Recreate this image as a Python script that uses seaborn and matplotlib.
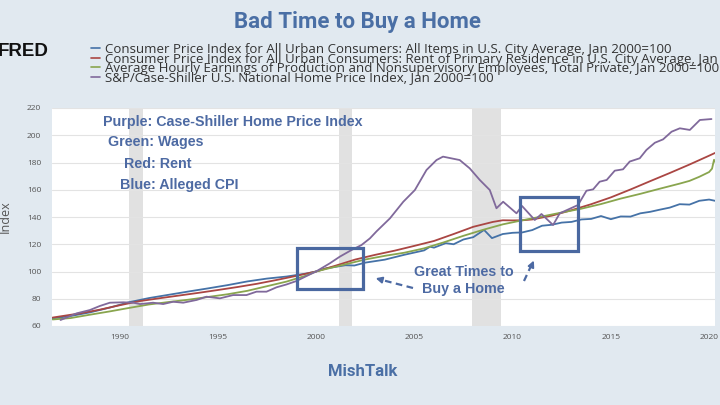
import matplotlib
matplotlib.use("Agg")
import matplotlib.pyplot as plt
import seaborn as sns
import pandas as pd
from matplotlib.patches import Rectangle
from matplotlib.lines import Line2D

# ---------------- data ----------------
cpi_years = [1986.6, 1987.5, 1988.5, 1989.5, 1990.5, 1991.5, 1992.5, 1993.5, 1994.5, 1995.5,
             1996.5, 1997.5, 1998.5, 1999.5, 2000.0, 2000.5, 2001.5, 2001.95, 2002.5, 2003.5,
             2004.5, 2005.5, 2005.8, 2006.0, 2006.6, 2007.0, 2007.5, 2008.0, 2008.55, 2008.95,
             2009.5, 2010.0, 2010.5, 2011.0, 2011.5, 2012.0, 2012.5, 2013.0, 2013.5, 2014.0,
             2014.5, 2015.0, 2015.5, 2016.0, 2016.5, 2017.0, 2017.5, 2018.0, 2018.5, 2019.0,
             2019.5, 2020.0, 2020.3]
cpi_values = [65.6, 67.3, 70.0, 73.5, 77.5, 80.5, 82.9, 85.3, 87.6, 90.0,
              92.7, 94.8, 96.3, 98.5, 100.0, 102.3, 104.6, 104.4, 106.5, 108.7,
              112.3, 115.5, 118.2, 117.5, 120.8, 120.0, 123.5, 125.2, 130.5, 124.5,
              127.5, 128.4, 128.7, 130.4, 133.6, 134.3, 135.9, 136.4, 138.2, 138.6,
              140.7, 138.4, 140.4, 140.3, 142.7, 143.8, 145.4, 146.9, 149.4, 149.1,
              151.9, 152.8, 151.9]

rent_years = [1986.6, 1988.0, 1989.0, 1990.0, 1991.0, 1992.0, 1993.0, 1994.0, 1995.0, 1996.0,
              1997.0, 1998.0, 1999.0, 2000.0, 2001.0, 2002.0, 2003.0, 2004.0, 2005.0, 2006.0,
              2007.0, 2008.0, 2009.0, 2009.5, 2010.0, 2010.5, 2011.0, 2012.0, 2013.0, 2014.0,
              2015.0, 2016.0, 2017.0, 2018.0, 2019.0, 2020.0, 2020.3]
rent_values = [66.2, 69.3, 72.0, 75.2, 78.2, 80.3, 82.3, 84.3, 86.4, 88.6,
               91.0, 93.8, 96.8, 100.0, 104.3, 108.8, 112.2, 115.3, 118.8, 122.4,
               127.5, 132.8, 136.4, 137.6, 137.5, 137.6, 138.2, 141.0, 145.0, 149.4,
               154.4, 160.2, 166.3, 172.3, 178.5, 185.0, 187.0]

wage_years = [1986.6, 1987.5, 1988.5, 1989.5, 1990.5, 1991.5, 1992.5, 1993.5, 1994.5, 1995.5,
              1996.5, 1997.5, 1998.5, 1999.5, 2000.0, 2000.5, 2001.5, 2002.5, 2003.5, 2004.5,
              2005.5, 2006.5, 2007.5, 2008.5, 2009.5, 2010.5, 2011.5, 2012.5, 2013.5, 2014.5,
              2015.5, 2016.5, 2017.5, 2018.5, 2019.0, 2019.5, 2020.0, 2020.15, 2020.25, 2020.3]
wage_values = [64.8, 65.8, 68.3, 70.7, 73.3, 75.8, 77.6, 79.3, 81.3, 83.3,
               85.8, 89.2, 92.6, 97.0, 100.0, 101.8, 105.3, 108.8, 111.5, 113.8,
               117.0, 121.4, 126.2, 130.6, 134.6, 137.6, 140.4, 143.3, 146.1, 149.5,
               153.5, 157.0, 160.8, 164.5, 166.5, 169.5, 173.0, 175.5, 182.0, 180.6]

hpi_years = [1987.0, 1987.82, 1988.49, 1989.0, 1989.51, 1990.19, 1990.7, 1991.04, 1991.71, 1992.22,
             1992.73, 1993.24, 1993.92, 1994.43, 1995.11, 1995.78, 1996.46, 1996.97, 1997.48, 1997.99,
             1998.5, 1999.0, 1999.69, 2000.0, 2000.7, 2001.21, 2001.81, 2002.31, 2002.74, 2003.08,
             2003.76, 2004.44, 2005.03, 2005.62, 2006.13, 2006.46, 2007.31, 2007.82, 2008.33, 2008.84,
             2009.18, 2009.52, 2010.2, 2010.48, 2011.13, 2011.47, 2012.06, 2012.4, 2013.33, 2013.76,
             2014.1, 2014.43, 2014.79, 2015.2, 2015.62, 2015.96, 2016.47, 2016.81, 2017.24, 2017.66,
             2018.09, 2018.51, 2019.02, 2019.53, 2020.12]
hpi_values = [64.4, 69.3, 71.7, 74.7, 77.1, 77.4, 77.1, 76.1, 77.1, 76.1,
              77.8, 77.1, 79.1, 81.5, 80.3, 82.7, 82.7, 85.2, 85.2, 88.4,
              90.5, 93.0, 97.9, 100.0, 106.0, 110.9, 115.8, 119.4, 124.3, 129.5,
              139.0, 151.2, 159.8, 174.5, 181.8, 184.3, 181.8, 175.7, 167.2, 159.8,
              146.4, 151.2, 142.7, 148.1, 137.8, 142.2, 134.1, 142.7, 148.8, 159.3,
              160.3, 165.9, 167.2, 174.0, 175.0, 180.7, 183.1, 189.2, 194.5, 197.0,
              202.6, 205.1, 203.9, 211.2, 211.9]

series_names = [
    "Consumer Price Index for All Urban Consumers: All Items in U.S. City Average, Jan 2000=100",
    "Consumer Price Index for All Urban Consumers: Rent of Primary Residence in U.S. City Average, Jan 2000=100",
    "Average Hourly Earnings of Production and Nonsupervisory Employees, Total Private, Jan 2000=100",
    "S&P/Case-Shiller U.S. National Home Price Index, Jan 2000=100",
]
series_colors = ["#4572a7", "#aa4643", "#89a54e", "#80699b"]

recession_starts = [1990.5, 2001.17, 2007.92]
recession_ends = [1991.17, 2001.83, 2009.42]

x_ticks = [1990, 1995, 2000, 2005, 2010, 2015, 2020]
y_ticks = [60, 80, 100, 120, 140, 160, 180, 200, 220]

# ---------------- build frame ----------------
frames = []
for name, yrs, vals in zip(series_names, [cpi_years, rent_years, wage_years, hpi_years],
                           [cpi_values, rent_values, wage_values, hpi_values]):
    frames.append(pd.DataFrame({"year": yrs, "value": vals, "series": name}))
df = pd.concat(frames, ignore_index=True)

# ---------------- styling ----------------
sns.set_theme(style="white")
plt.rcParams["font.family"] = ["Open Sans", "DejaVu Sans"]

W, H = 720, 405
BG = "#e1e9f0"
ANN = "#4d6aa3"

fig = plt.figure(figsize=(7.2, 4.05), dpi=100, facecolor=BG)


def fx(x):
    return x / W


def fy(y):
    return 1 - y / H


ax = fig.add_axes([fx(52.3), fy(326), (715 - 52.3) / W, 218 / H])
ax.set_facecolor("white")

for a, b in zip(recession_starts, recession_ends):
    ax.axvspan(a, b, color="#e1e1e1", lw=0, zorder=0)

sns.lineplot(data=df, x="year", y="value", hue="series",
             palette=dict(zip(series_names, series_colors)),
             estimator=None, sort=False, legend=False, ax=ax, lw=1.3, zorder=3)

ax.set_xlim(1986.58, 2020.3)
ax.set_ylim(60, 220)
ax.set_xticks(x_ticks)
ax.set_yticks(y_ticks)
ax.grid(axis="y", color="#e3e3e3", lw=0.8, zorder=1)
ax.grid(axis="x", visible=False)
for s in ax.spines.values():
    s.set_visible(False)
ax.tick_params(axis="both", labelsize=6, colors="#555555", length=0)
ax.tick_params(axis="x", pad=5.5)
ax.tick_params(axis="y", pad=8)
ax.set_xlabel("")
ax.set_ylabel("Index", fontsize=9, color="#555555")
ax.yaxis.set_label_coords((12 - 52.3) / (715 - 52.3), 0.5)

# boxes (annotation)
ax.add_patch(Rectangle((1999.04, 86.9), 2002.37 - 1999.04, 117.5 - 86.9, fill=False,
                       ec="#4a68a0", lw=2.3, zorder=6, clip_on=False))
ax.add_patch(Rectangle((2010.40, 115.3), 2013.33 - 2010.40, 154.5 - 115.3, fill=False,
                       ec="#4a68a0", lw=2.3, zorder=6, clip_on=False))

# ---------------- texts ----------------
narrow = ["Liberation Sans Narrow", "Roboto", "DejaVu Sans"]
fig.text(fx(358), fy(22), "Bad Time to Buy a Home", ha="center", va="center",
         fontsize=16, fontweight="bold", color="#4a6fa5", family=narrow)

fig.text(fx(-2), fy(51), "FRED", ha="left", va="center", fontsize=13.5,
         fontweight="bold", color="#111111", family=["Liberation Sans", "DejaVu Sans"])

rows = [49.5, 59, 68.5, 78]
for name, col, ry in zip(series_names, series_colors, rows):
    fig.add_artist(Line2D([fx(91), fx(100)], [fy(ry - 1.5), fy(ry - 1.5)], color=col, lw=1.2))
    fig.text(fx(105), fy(ry), name, ha="left", va="center", fontsize=9.5, color="#333333")

ann_font = ["Liberation Sans", "DejaVu Sans"]
for txt, x0, y0 in [("Purple: Case-Shiller Home Price Index", 103.5, 122.3),
                    ("Green: Wages", 107.7, 142.3),
                    ("Red: Rent", 124.3, 164.3),
                    ("Blue: Alleged CPI", 120, 185)]:
    fig.text(fx(x0), fy(y0), txt, ha="left", va="center", fontsize=10.3,
             fontweight="bold", color=ANN, family=ann_font, zorder=10)

fig.text(fx(464), fy(271.7), "Great Times to", ha="center", va="center", fontsize=10.3,
         fontweight="bold", color=ANN, family=ann_font)
fig.text(fx(463), fy(289), "Buy a Home", ha="center", va="center", fontsize=10.3,
         fontweight="bold", color=ANN, family=ann_font)

# dashed arrows
fig.add_artist(Line2D([fx(413), fx(382)], [fy(288), fy(280)], color=ANN, lw=1.6, ls=(0, (3, 2))))
fig.add_artist(Line2D([fx(524), fx(531)], [fy(281), fy(266)], color=ANN, lw=1.6, ls=(0, (3, 2))))
ax.annotate("", xy=(fx(373), fy(277.5)), xytext=(fx(383), fy(280.2)), xycoords="figure fraction",
            arrowprops=dict(arrowstyle="-|>", color=ANN, lw=1.4, mutation_scale=9))
ax.annotate("", xy=(fx(535), fy(258)), xytext=(fx(531), fy(267)), xycoords="figure fraction",
            arrowprops=dict(arrowstyle="-|>", color=ANN, lw=1.4, mutation_scale=9))

fig.text(fx(363), fy(372), "MishTalk", ha="center", va="center", fontsize=12,
         fontweight="bold", color="#4a6fa5", family=narrow)

fig.savefig("out.png", dpi=100, facecolor=BG)
